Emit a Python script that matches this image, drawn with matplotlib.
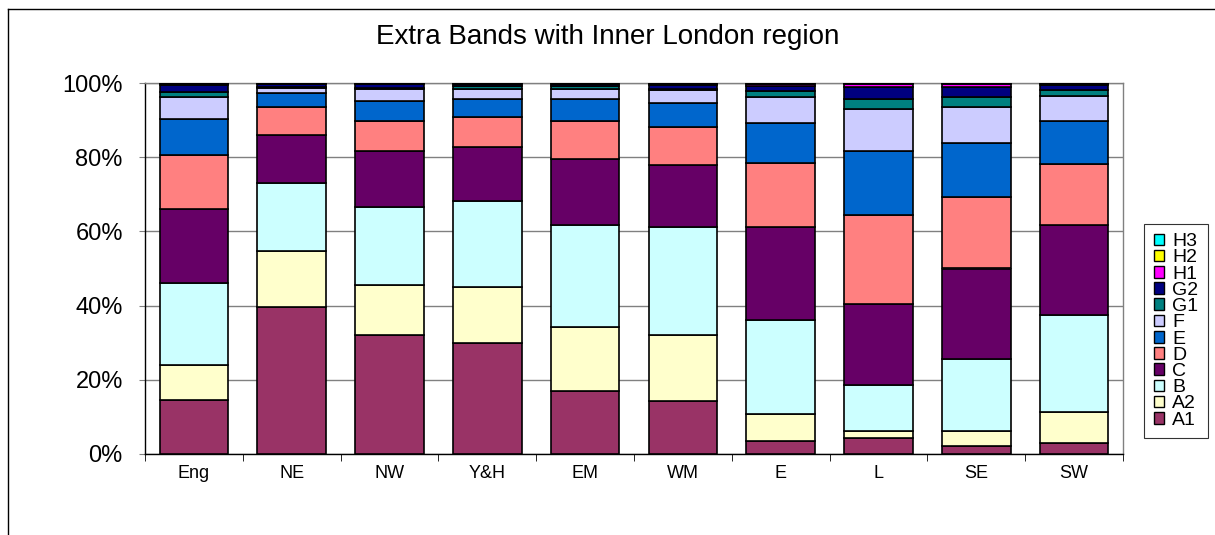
import numpy as np
import matplotlib
matplotlib.use("Agg")
import matplotlib.pyplot as plt
from matplotlib.patches import Rectangle
from matplotlib.lines import Line2D
from matplotlib.ticker import FixedLocator, PercentFormatter

plt.rcParams['font.family'] = ['Liberation Sans', 'DejaVu Sans']

regions = ["Eng", "NE", "NW", "Y&H", "EM", "WM", "E", "L", "SE", "SW"]
bands = ["A1", "A2", "B", "C", "D", "E", "F", "G1", "G2", "H1", "H2", "H3"]

# share of dwellings in each band, per region (%)
A1 = [14.5, 39.6, 32.1, 30.0, 17.0, 14.4, 3.6, 4.2, 2.1, 3.0]
A2 = [9.5, 15.1, 13.5, 15.1, 17.3, 17.8, 7.1, 2.1, 4.2, 8.2]
B  = [22.1, 18.3, 21.0, 23.1, 27.4, 29.0, 25.3, 12.4, 19.3, 26.3]
C  = [20.0, 13.0, 15.1, 14.6, 17.9, 16.8, 25.3, 21.6, 24.4, 24.3]
D  = [14.4, 7.5, 8.0, 8.1, 10.1, 10.1, 17.2, 24.1, 19.3, 16.5]
E  = [9.7, 3.7, 5.5, 4.8, 5.9, 6.6, 10.8, 17.3, 14.6, 11.4]
F  = [5.9, 1.5, 3.1, 2.7, 2.8, 3.5, 6.8, 11.3, 9.6, 6.9]
G1 = [1.6, 0.3, 0.3, 0.7, 0.8, 0.3, 1.7, 2.7, 2.6, 1.5]
G2 = [1.7, 0.6, 1.0, 0.5, 0.4, 1.0, 1.4, 3.1, 2.8, 1.3]
H1 = [0.4, 0.2, 0.2, 0.2, 0.2, 0.3, 0.5, 1.0, 0.9, 0.4]
H2 = [0.1, 0.1, 0.1, 0.1, 0.1, 0.1, 0.1, 0.1, 0.1, 0.1]
H3 = [0.1, 0.1, 0.1, 0.1, 0.1, 0.1, 0.2, 0.1, 0.1, 0.1]

colors = ["#993366", "#FFFFCC", "#CCFFFF", "#660066", "#FF8080", "#0066CC",
          "#CCCCFF", "#008080", "#000080", "#FF00FF", "#FFFF00", "#00FFFF"]

data = np.array([A1, A2, B, C, D, E, F, G1, G2, H1, H2, H3])
data = data / data.sum(axis=0) * 100

fig = plt.figure(figsize=(12.15, 5.35), dpi=100)
W, H = 1215, 535
ax = fig.add_axes([145 / W, (H - 454) / H, (1123 - 145) / W, (454 - 83) / H])

x = np.arange(len(regions))
bottom = np.zeros(len(regions))
for vals, col in zip(data, colors):
    ax.bar(x, vals, width=0.7, bottom=bottom, color=col,
           edgecolor="black", linewidth=1.2, zorder=3)
    bottom += vals

ax.set_xlim(-0.5, len(regions) - 0.5)
ax.set_ylim(0, 100)
ax.set_yticks(np.arange(0, 101, 20))
ax.yaxis.set_major_formatter(PercentFormatter(decimals=0))
ax.set_xticks(x)
ax.set_xticklabels(regions, fontsize=13)
ax.xaxis.set_minor_locator(FixedLocator(np.arange(-0.5, len(regions), 1)))
ax.tick_params(axis="x", which="major", length=0, pad=8)
ax.tick_params(axis="x", which="minor", length=5, color="black", direction="out")
ax.tick_params(axis="y", labelsize=17, length=4, color="#808080", pad=12)
ax.grid(axis="y", color="#808080", linewidth=1.0, zorder=0)
for side in ["top", "right"]:
    ax.spines[side].set_color("#808080")
for side in ["left", "bottom"]:
    ax.spines[side].set_color("black")
for s in ax.spines.values():
    s.set_linewidth(1.0)

fig.text(0.5, (H - 37) / H, "Extra Bands with Inner London region",
         ha="center", va="center", fontsize=20)

handles = [Rectangle((0, 0), 1, 1, facecolor=c, edgecolor="black", linewidth=1.0)
           for c in colors]
leg = fig.legend(handles[::-1], bands[::-1], loc="center",
                 bbox_to_anchor=(1176 / W, (H - 331) / H),
                 fontsize=14, frameon=True, fancybox=False, edgecolor="black",
                 handlelength=0.55, handleheight=0.55, handletextpad=0.4,
                 labelspacing=-0.04, borderpad=0.5, borderaxespad=0)
leg.get_frame().set_linewidth(0.8)

# outer chart frame
fig.add_artist(Line2D([8 / W, 8 / W], [0, (H - 9) / H], color="black", lw=1.0))
fig.add_artist(Line2D([8 / W, 1], [(H - 9) / H, (H - 9) / H], color="black", lw=1.0))

fig.savefig("out.png", dpi=100)
